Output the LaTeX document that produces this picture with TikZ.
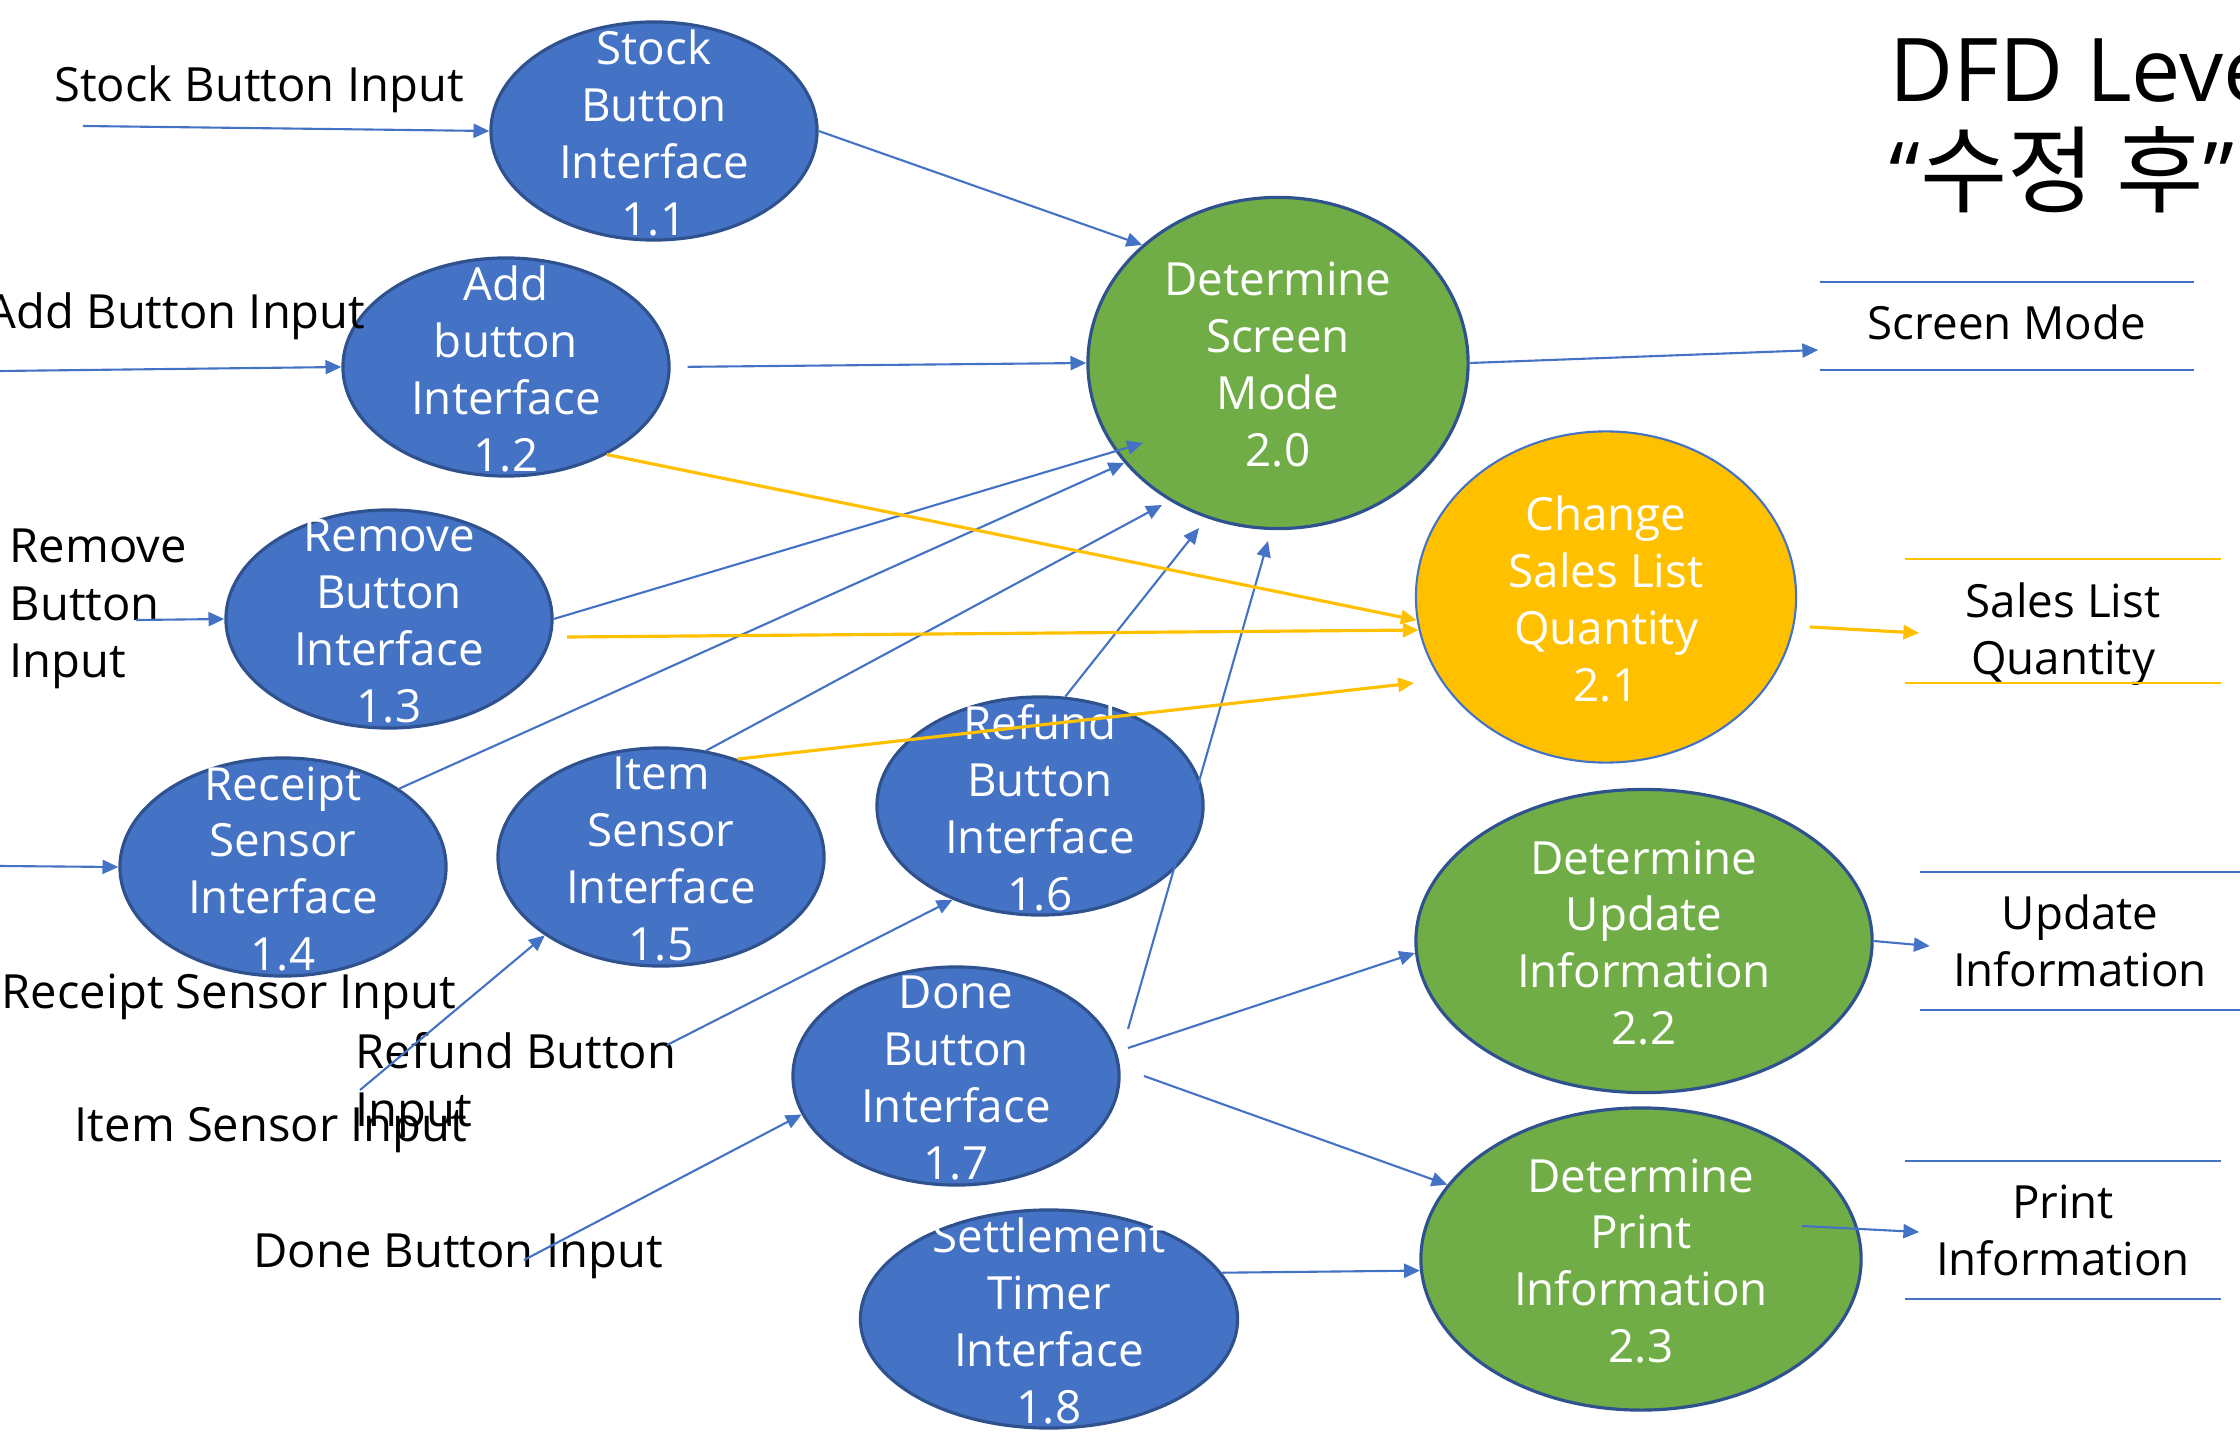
\documentclass[tikz,border=0pt]{standalone}
\usepackage{fontspec}
\setmainfont{Open Sans}
\newfontfamily\krfont{Noto Sans CJK KR}
\usetikzlibrary{calc, shapes.geometric, arrows.meta}

\definecolor{procblue}{HTML}{4472C4}
\definecolor{procedge}{HTML}{2F528F}
\definecolor{procgreen}{HTML}{70AD47}
\definecolor{procyellow}{HTML}{FFC000}

\begin{document}
\begin{tikzpicture}[x=0.01cm, y=-0.01cm,
  txt/.style={font=\fontsize{13}{16.2}\selectfont, align=center, inner sep=0pt},
  lbl/.style={txt, font=\fontsize{13.4}{16.4}\selectfont},
  intext/.style={txt, text=white, yshift=-0.02cm},
  proc/.style={ellipse, draw=procedge, line width=0.9pt, inner sep=0pt, minimum width=3.26cm, minimum height=2.18cm},
  blueproc/.style={proc, fill=procblue},
  greenproc/.style={proc, fill=procgreen},
  store/.style={txt, minimum width=3.14cm},
  storeline/.style={draw=procblue, line width=0.5pt},
  flow/.style={draw=procblue, line width=0.6pt, -{Triangle[length=4.5pt,width=4pt]}},
  yflow/.style={flow, draw=procyellow, line width=0.9pt}]

\useasboundingbox (0,0) rectangle (2240,1440);

% 제목
\node[anchor=base west, align=left, inner sep=0pt, font=\fontsize{25}{29.8}\selectfont] (title) at (1889,206) {DFD Leve\\“{\krfont\fontsize{27}{29.8}\selectfont 수정 후}”};

% 1.x 인터페이스
\node[blueproc, label={[intext]center:Stock\\Button\\Interface\\1.1}] (p11) at (654,131) {};
\node[blueproc, label={[intext]center:Add\\button\\Interface\\1.2}] (p12) at (506,367) {};
\node[blueproc, label={[intext]center:Remove\\Button\\Interface\\1.3}] (p13) at (389,619) {};
\node[blueproc, label={[intext]center:Receipt\\Sensor\\Interface\\1.4}] (p14) at (283,867) {};
\node[blueproc, label={[intext]center:Item\\Sensor\\Interface\\1.5}] (p15) at (661,857) {};
\node[blueproc, label={[intext]center:Refund\\Button\\Interface\\1.6}] (p16) at (1040,806) {};
\node[blueproc, label={[intext]center:Done\\Button\\Interface\\1.7}] (p17) at (956,1076) {};
\node[blueproc, minimum width=3.77cm, label={[intext]center:Settlement\\Timer\\Interface\\1.8}] (p18) at (1049,1319) {};

% 2.x 처리
\node[greenproc, minimum width=3.8cm, minimum height=3.31cm, label={[intext]center:Determine\\Screen\\Mode\\2.0}] (p20) at (1278,363) {};
\node[proc, fill=procyellow, draw=procblue, line width=0.6pt, minimum width=3.8cm, minimum height=3.31cm, label={[intext]center:Change\\Sales List\\Quantity\\2.1}] (p21) at (1606,597) {};
\node[greenproc, minimum width=4.56cm, minimum height=3.03cm, label={[intext]center:Determine\\Update\\Information\\2.2}] (p22) at (1644,941) {};
\node[greenproc, minimum width=4.4cm, minimum height=3.02cm, label={[intext]center:Determine\\Print\\Information\\2.3}] (p23) at (1641,1259) {};

% 데이터 저장소
\node[store, minimum width=3.72cm, minimum height=0.86cm, label={[txt, yshift=0.04cm]center:Screen Mode}] (sm) at (2007,326) {};
\node[store, minimum height=1.23cm, label={[txt, yshift=-0.13cm]center:Sales List\\Quantity}] (sl) at (2063,621) {};
\node[store, minimum width=3.19cm, minimum height=1.37cm] (ui) at (2080,941) {Update\\Information};
\node[store, minimum height=1.37cm] (prt) at (2063,1230) {Print\\Information};
\draw[storeline] (sm.north west) -- (sm.north east) (sm.south west) -- (sm.south east);
\draw[storeline, draw=procyellow] (sl.north west) -- (sl.north east) (sl.south west) -- (sl.south east);
\draw[storeline] (ui.north west) -- (ui.north east) (ui.south west) -- (ui.south east);
\draw[storeline] (prt.north west) -- (prt.north east) (prt.south west) -- (prt.south east);

% 입력 이름
\node[lbl] (lstock) at (259,89) {Stock Button Input};
\node[lbl] (ladd) at (176,316) {Add Button Input};
\node[lbl, anchor=west, align=left] (lremove) at (9,609) {Remove\\Button\\Input};
\node[lbl] (lreceipt) at (229,997) {Receipt Sensor Input};
\node[lbl, anchor=west, align=left] (lrefund) at (355,1085) {Refund Button\\Input};
\node[lbl] (litem) at (271,1130) {Item Sensor Input};
\node[lbl] (ldone) at (458,1256) {Done Button Input};

% 입력 흐름
\coordinate (i11) at (83,126);
\coordinate (i12) at (0,371);
\coordinate (i13) at (136,620);
\coordinate (i14) at (0,866);
\coordinate (i15) at (360,1090);
\coordinate (i16) at (667,1045);
\coordinate (i17) at (524,1260);
\draw[flow] (i11) -- (p11.west);
\draw[flow] (i12) -- (p12.west);
\draw[flow] (i13) -- (p13.west);
\draw[flow] (i14) -- (p14.west);
\draw[flow] (i15) -- (p15.214);
\draw[flow] (i16) -- (p16.227);
\draw[flow] (i17) -- (p17.194);

% 2.0 으로
\draw[flow] (p11.east) -- (p20.139);
\draw[flow, shorten <=0.17cm] (p12.east) -- (p20.west);
\draw[flow] (p13.east) -- ($(p20)+(-135,80)$);
\draw[flow] (p14.34) -- (p20.213);
\draw[flow] (p15.67) -- ($(p20)+(-116,142)$);
\draw[flow] (p16.77) -- ($(p20)+(-79,165)$);
\draw[flow] ($(p17)+(172,-47)$) -- ($(p20)+(-10,178)$);

% 2.1 으로
\draw[yflow] (p12.-41) -- (p21.187);
\draw[yflow] ($(p13)+(178,18)$) -- (p21.190);
\draw[yflow] (p15.52) -- ($(p21)+(-192,86)$);

% 2.2, 2.3 으로
\draw[flow] ($(p17)+(172,-28)$) -- (p22.183);
\draw[flow] ($(p17)+(188,0)$) -- (p23.159);
\draw[flow] (p18.15) -- (p23.183);

% 출력
\draw[flow] (p20.east) -- ($(sm.west)+(-2,24)$);
\draw[yflow] ($(p21)+(204,30)$) -- ($(sl.west)+(14,12)$);
\draw[flow] (p22.east) -- ($(ui.west)+(10,5)$);
\draw[flow] ($(p23)+(161,-33)$) -- ($(prt.west)+(14,2)$);

\end{tikzpicture}
\end{document}
